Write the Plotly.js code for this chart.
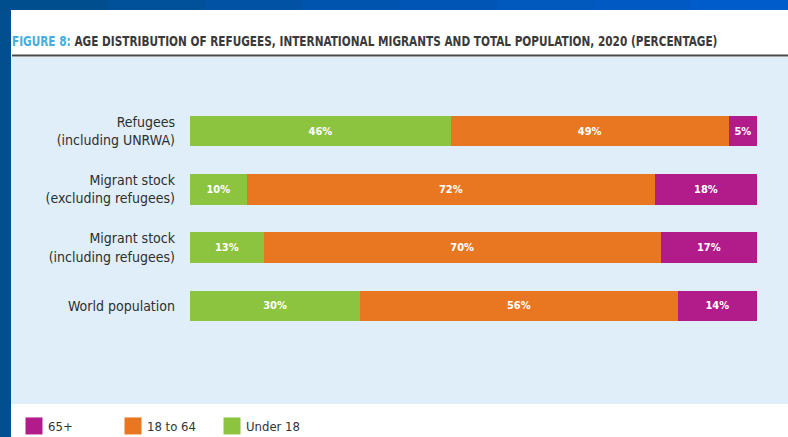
<!DOCTYPE html>
<html>
<head>
<meta charset="utf-8">
<script src="https://cdn.plot.ly/plotly-3.0.1.min.js"></script>
<style>html,body{margin:0;padding:0;background:#fff;}#chart{width:788px;height:437px;}</style>
</head>
<body>
<div id="chart"></div>
<script>
var categories = ["Refugees<br>(including UNRWA)", "Migrant stock<br>(excluding refugees)", "Migrant stock<br>(including refugees)", "World population"];
var under18 = [46, 10, 13, 30];
var age18to64 = [49, 72, 70, 56];
var age65plus = [5, 18, 17, 14];
var seriesNames = ["Under 18", "18 to 64", "65+"];
var seriesColors = ["#8cc43f", "#e97722", "#b21b8a"];

var W = 788, H = 437;
var ML = 190, MR = 31, MT = 102, MB = 102;
var PW = W - ML - MR, PH = H - MT - MB;
function px(x){ return (x - ML) / PW; }
function py(y){ return (H - MB - y) / PH; }

var FONT = "'DejaVu Sans Condensed', 'DejaVu Sans', sans-serif";

function mk(vals, i){
  return {
    type: 'bar', orientation: 'h', name: seriesNames[i],
    y: categories, x: vals,
    marker: {color: seriesColors[i], line: {width: 0}},
    texttemplate: '<b>%{x}%</b>', textposition: 'inside', insidetextanchor: 'middle',
    textfont: {color: '#ffffff', size: 11, family: FONT},
    constraintext: 'none', hoverinfo: 'skip'
  };
}
var data = [mk(under18, 0), mk(age18to64, 1), mk(age65plus, 2)];

var shapes = [
  {type:'rect', xref:'paper', yref:'paper', x0:px(11), x1:px(788), y0:py(404), y1:py(57), fillcolor:'#dfeef8', line:{width:0}, layer:'below'},
  {type:'rect', xref:'paper', yref:'paper', x0:px(0), x1:px(11), y0:py(437), y1:py(0), fillcolor:'#014f8e', line:{width:0}, layer:'below'},
  {type:'line', xref:'paper', yref:'paper', x0:px(12), x1:px(788), y0:py(55.5), y1:py(55.5), line:{color:'#4a4a4a', width:2}, layer:'below'}
];
var bandCols = ['#014e8f','#01509a','#0152a4','#0154ad','#0156b5','#0158bd','#0159c4','#005bcb'];
for (var k = 0; k < bandCols.length; k++) {
  var a = 11 + k * (777 / bandCols.length), b = 11 + (k + 1) * (777 / bandCols.length) + 1;
  shapes.push({type:'rect', xref:'paper', yref:'paper', x0:px(k===0?0:a), x1:px(b), y0:py(10), y1:py(0), fillcolor:bandCols[k], line:{width:0}, layer:'below'});
}

var layout = {
  width: W, height: H,
  margin: {l: ML, r: MR, t: MT, b: MB, pad: 0, autoexpand: false},
  paper_bgcolor: '#ffffff', plot_bgcolor: 'rgba(0,0,0,0)',
  barmode: 'stack', bargap: 0.48,
  font: {family: FONT, color: '#333333'},
  title: {
    text: '<span style="color:#45aee0">FIGURE 8:</span> AGE DISTRIBUTION OF REFUGEES, INTERNATIONAL MIGRANTS AND TOTAL POPULATION, 2020 (PERCENTAGE)',
    x: 12 / W, xanchor: 'left', xref: 'container',
    y: 1 - 41 / H, yanchor: 'middle', yref: 'container',
    font: {family: FONT, size: 14, color: '#3a3a3a', weight: 'bold'}
  },
  xaxis: {range: [0, 100], showgrid: false, zeroline: false, showticklabels: false, showline: false, fixedrange: true},
  yaxis: {type: 'category', categoryorder: 'array', categoryarray: categories, range: [3.5, -0.5],
    showgrid: false, zeroline: false, showline: false, ticks: '', ticklabelstandoff: 14,
    tickfont: {family: FONT, size: 14, color: '#2e2e2e'}, fixedrange: true},
  showlegend: true,
  legend: {orientation: 'h', traceorder: 'reversed', x: px(8), xanchor: 'left', y: py(426), yanchor: 'middle',
    font: {family: FONT, size: 13, color: '#333333'}, entrywidth: 54, entrywidthmode: 'pixels', itemwidth: 30, bgcolor: 'rgba(0,0,0,0)'},
  shapes: shapes
};

Plotly.newPlot('chart', data, layout, {displayModeBar: false, staticPlot: true}).then(function(gd){
  var t = gd.querySelector('.gtitle');
  if (t) {
    var w = t.getComputedTextLength ? t.getComputedTextLength() : 0;
    if (w > 0) {
      var s = 706 / w, x0 = parseFloat(t.getAttribute('x')) || 12;
      t.setAttribute('transform', 'translate(' + x0 + ',0) scale(' + s + ',1) translate(' + (-x0) + ',0)');
    }
  }
  var pts = gd.querySelectorAll('.legendpoints path');
  pts.forEach(function(p){ p.setAttribute('d', 'M14.5,8.5H-2.5V-8.5H14.5Z'); });
});
</script>
</body>
</html>
